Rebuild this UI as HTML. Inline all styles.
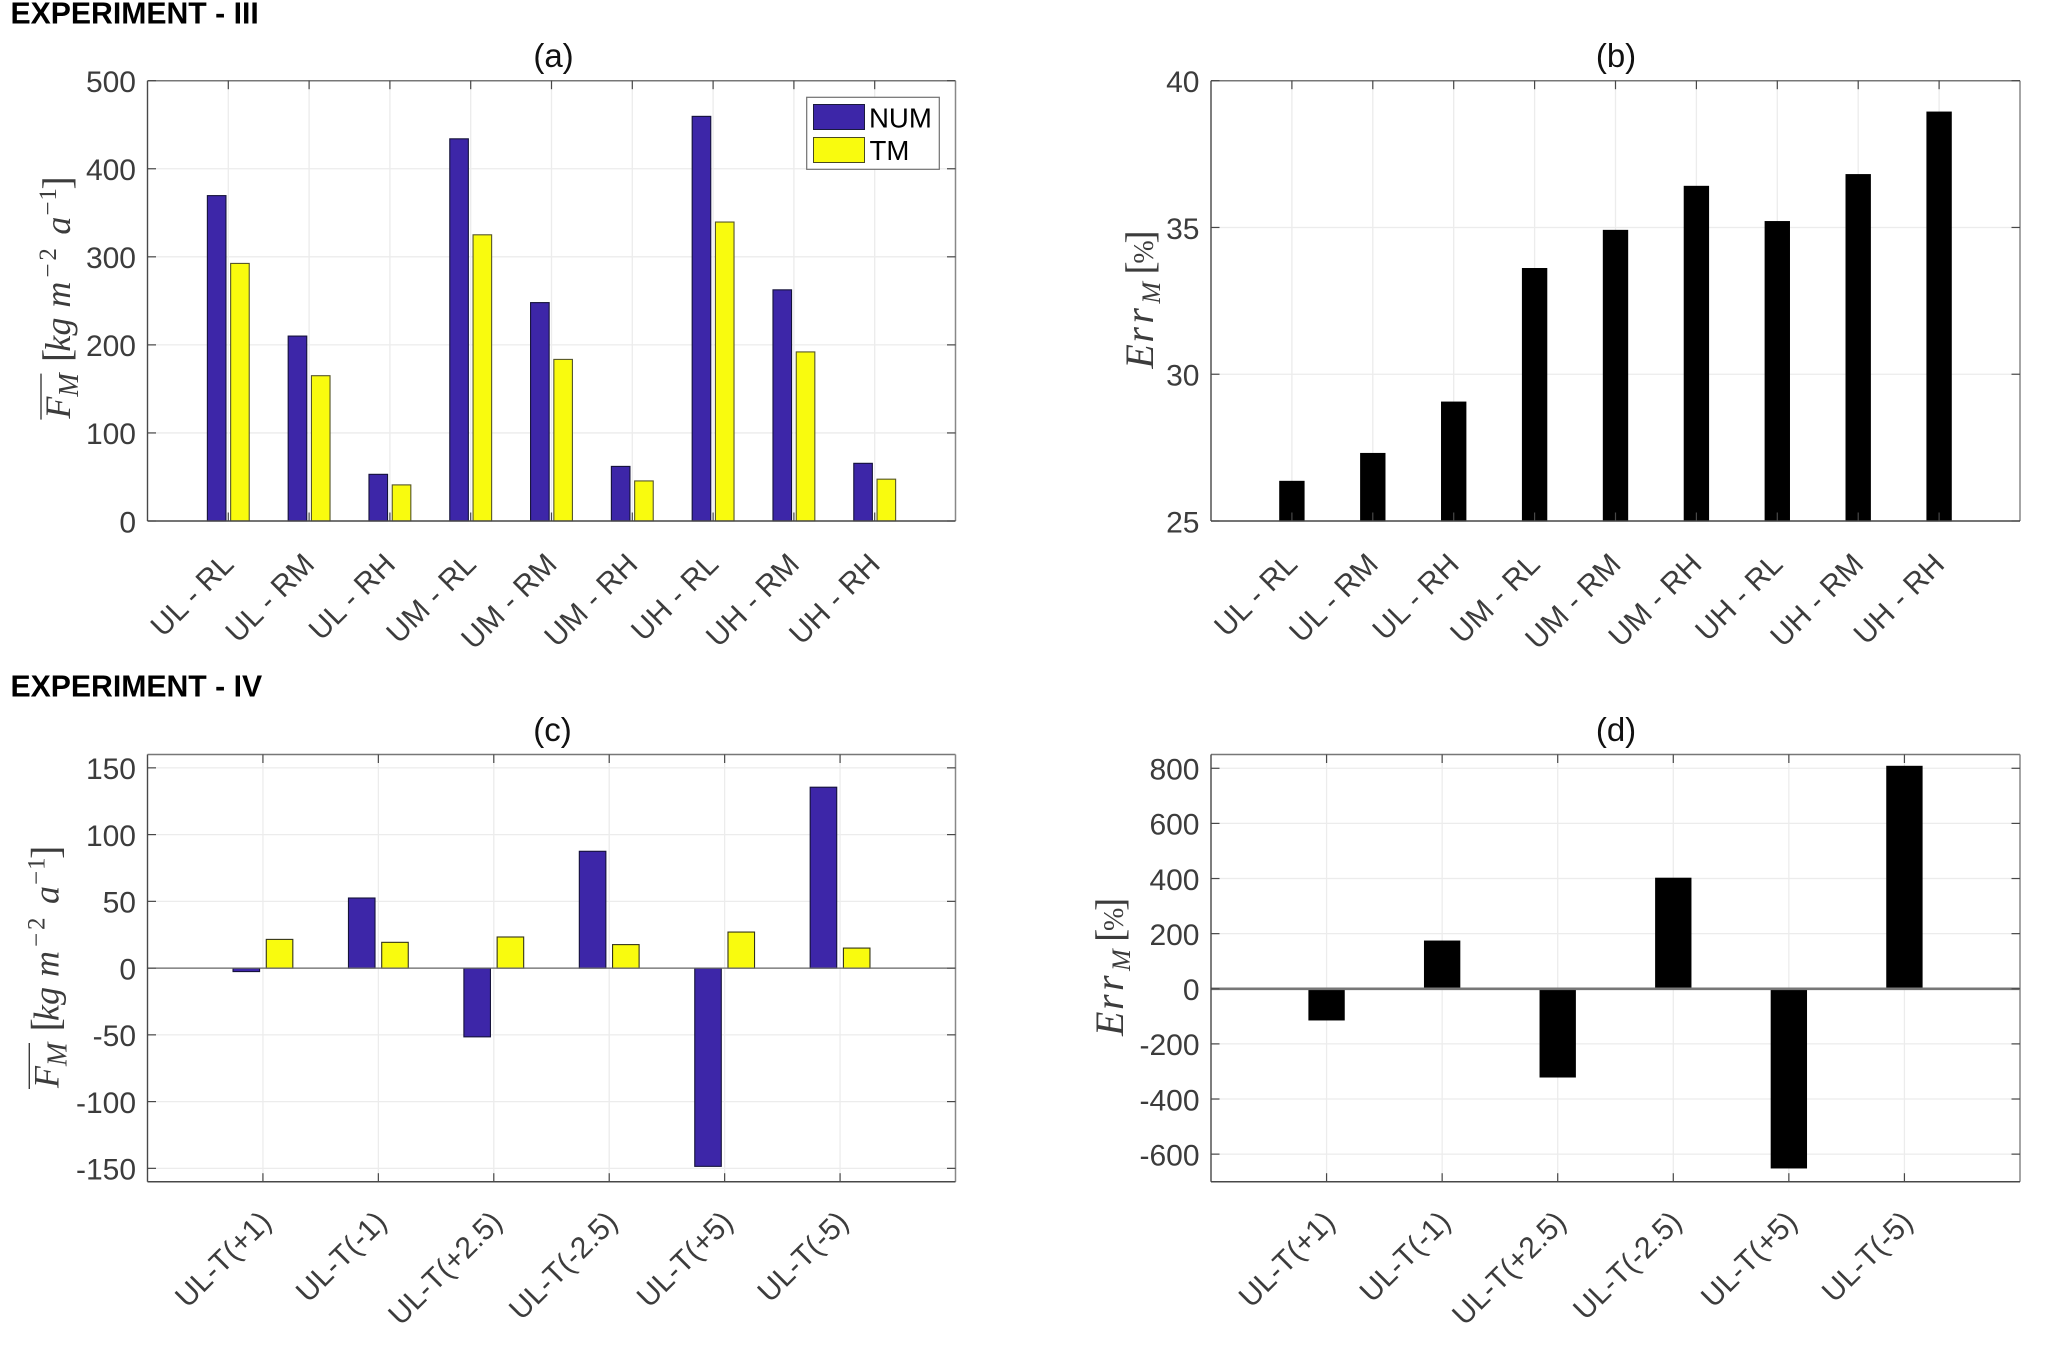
<!DOCTYPE html>
<html lang="en">
<head>
<meta charset="utf-8">
<title>Experiment III and IV bar charts</title>
<style>
  html, body { margin: 0; padding: 0; background: #fff; }
  svg { display: block; }
  text { font-family: "Liberation Sans", Arial, sans-serif; }
  .tick { font-size: 30px; fill: #3c3c3c; }
  .title { font-size: 33px; fill: #111; text-anchor: middle; }
  .head { font-size: 30.2px; font-weight: bold; fill: #000; }
  .legend-text { font-size: 27.6px; fill: #000; }
  .math { font-family: "Liberation Serif", "DejaVu Serif", serif; fill: #3c3c3c; }
  .it { font-style: italic; }
</style>
</head>
<body>
<svg id="fig" xmlns="http://www.w3.org/2000/svg" width="2067" height="1349" viewBox="0 0 2067 1349">
  <rect x="0" y="0" width="2067" height="1349" fill="#fff"/>
  <text class="head" x="10.5" y="23.3">EXPERIMENT - III</text>
  <text class="head" x="10.5" y="696.7">EXPERIMENT - IV</text>
  <text class="title" x="553.5" y="67">(a)</text>
  <text class="title" x="1616" y="67">(b)</text>
  <text class="title" x="552.5" y="741">(c)</text>
  <text class="title" x="1616" y="741">(d)</text>

  <g id="plots"></g>

  <g transform="translate(70,420.6) rotate(-90)">
    <line x1="1" y1="-29" x2="47" y2="-29" stroke="#3c3c3c" stroke-width="1.4"/>
    <text class="math" font-size="36">
      <tspan class="it" x="2">F</tspan><tspan class="it" x="24" y="8" font-size="28">M</tspan><tspan x="58.5" y="0" font-size="40">[</tspan><tspan class="it" x="69">k</tspan><tspan class="it" x="85">g</tspan><tspan class="it" x="113" textLength="27">m</tspan><tspan x="143" y="-14" font-size="25">−</tspan><tspan x="160" y="-14" font-size="25">2</tspan><tspan class="it" x="186" y="0">a</tspan><tspan x="205" y="-14" font-size="25">−</tspan><tspan x="220" y="-14" font-size="25">1</tspan><tspan x="231" y="0" font-size="40">]</tspan>
    </text>
  </g>
  <g transform="translate(58.3,1090) rotate(-90)">
    <line x1="1" y1="-29" x2="47" y2="-29" stroke="#3c3c3c" stroke-width="1.4"/>
    <text class="math" font-size="36">
      <tspan class="it" x="2">F</tspan><tspan class="it" x="24" y="8" font-size="28">M</tspan><tspan x="58.5" y="0" font-size="40">[</tspan><tspan class="it" x="69">k</tspan><tspan class="it" x="85">g</tspan><tspan class="it" x="113" textLength="27">m</tspan><tspan x="143" y="-14" font-size="25">−</tspan><tspan x="160" y="-14" font-size="25">2</tspan><tspan class="it" x="186" y="0">a</tspan><tspan x="205" y="-14" font-size="25">−</tspan><tspan x="220" y="-14" font-size="25">1</tspan><tspan x="231" y="0" font-size="40">]</tspan>
    </text>
  </g>
  <g transform="translate(1153,368.6) rotate(-90)">
    <text class="math" font-size="40">
      <tspan class="it" x="0">E</tspan><tspan class="it" x="26">r</tspan><tspan class="it" x="45">r</tspan><tspan class="it" x="65" y="7" font-size="26">M</tspan><tspan x="94" y="0">[</tspan><tspan x="105" font-size="28">%</tspan><tspan x="125">]</tspan>
    </text>
  </g>
  <g transform="translate(1123,1036) rotate(-90)">
    <text class="math" font-size="40">
      <tspan class="it" x="0">E</tspan><tspan class="it" x="26">r</tspan><tspan class="it" x="45">r</tspan><tspan class="it" x="65" y="7" font-size="26">M</tspan><tspan x="94" y="0">[</tspan><tspan x="105" font-size="28">%</tspan><tspan x="125">]</tspan>
    </text>
  </g>

  <g>
    <rect x="806.7" y="97.3" width="132.6" height="72" fill="#fff" stroke="#707070" stroke-width="1.2"/>
    <rect x="813.5" y="104.5" width="51" height="25" fill="#3d26a8" stroke="#1a1a3c" stroke-width="1"/>
    <rect x="813.5" y="137.5" width="51" height="25" fill="#f9fb0e" stroke="#4a4a20" stroke-width="1"/>
    <text class="legend-text" x="869" y="127.3">NUM</text>
    <text class="legend-text" x="869.5" y="160">TM</text>
  </g>
</svg>

<script>
// ---- data ----
const categoriesTop = ["UL - RL", "UL - RM", "UL - RH", "UM - RL", "UM - RM", "UM - RH", "UH - RL", "UH - RM", "UH - RH"];
const categoriesBottom = ["UL-T(+1)", "UL-T(-1)", "UL-T(+2.5)", "UL-T(-2.5)", "UL-T(+5)", "UL-T(-5)"];

const numA = [369.5, 210, 53, 434, 248, 62, 459.5, 262.5, 65.5];
const tmA = [292.5, 165, 41, 325, 183.5, 45.5, 339.5, 192, 47.5];
const errB = [26.35, 27.3, 29.05, 33.6, 34.9, 36.4, 35.2, 36.8, 38.93];
const numC = [-2.6, 52.5, -51.5, 87.5, -148.5, 135.5];
const tmC = [21.5, 19.3, 23.3, 17.6, 27, 15];
const errD = [-113, 173, -320, 401, -650, 807];

const yTicksA = [0, 100, 200, 300, 400, 500];
const yTicksB = [25, 30, 35, 40];
const yTicksC = [-150, -100, -50, 0, 50, 100, 150];
const yTicksD = [-600, -400, -200, 0, 200, 400, 600, 800];

const NS = "http://www.w3.org/2000/svg";
const plots = document.getElementById("plots");

function mk(tag, parent, attrs) {
  const el = document.createElementNS(NS, tag);
  for (const k in attrs) el.setAttribute(k, attrs[k]);
  parent.appendChild(el);
  return el;
}

function drawPanel(cfg) {
  const L = cfg.left, R = cfg.right, T = cfg.top, B = cfg.bottom;
  const n = cfg.categories.length;
  const xScale = v => L + (R - L) * v / (n + 1);
  const yScale = v => B - (B - T) * (v - cfg.yMin) / (cfg.yMax - cfg.yMin);
  const unit = (R - L) / (n + 1);

  const panel = mk("g", plots, {});
  
  

  mk("rect", panel, { x: L, y: T, width: R - L, height: B - T, fill: "#fff" });

  // grid
  const grid = mk("g", panel, { stroke: "#ececec", "stroke-width": 1.3 });
  
  
  cfg.yTicks.forEach(t => {
    mk("line", grid, { x1: L, x2: R, y1: yScale(t), y2: yScale(t) });
  });
  cfg.categories.forEach((c, i) => {
    mk("line", grid, { x1: xScale(i + 1), x2: xScale(i + 1), y1: T, y2: B });
  });

  // bars
  cfg.series.forEach(s => {
    const g = mk("g", panel, {});
    
    
    s.values.forEach((v, i) => {
      const y0 = yScale(Math.max(v, cfg.base));
      const y1 = yScale(Math.min(v, cfg.base));
      const bar = mk("rect", g, {
        x: xScale(i + 1) + s.offset * unit - s.width * unit / 2,
        y: y0,
        width: s.width * unit,
        height: y1 - y0,
        fill: s.fill,
        stroke: s.edge,
        "stroke-width": 1.1
      });
      
      
    });
  });

  // zero baseline
  if (cfg.base > cfg.yMin) {
    const zero = mk("line", panel, { x1: L, x2: R, y1: yScale(cfg.base), y2: yScale(cfg.base), stroke: cfg.zeroColor, "stroke-width": cfg.zeroWidth });
    
    
  }

  // axes frame
  const frame = mk("g", panel, { stroke: "#555", fill: "none" });
  
  
  mk("line", frame, { x1: L, x2: R, y1: T, y2: T, stroke: "#777", "stroke-width": 1.5 });
  mk("line", frame, { x1: R, x2: R, y1: T, y2: B, stroke: "#888", "stroke-width": 1.5 });
  mk("line", frame, { x1: L, x2: L, y1: T, y2: B, stroke: "#484848", "stroke-width": 1.4 });
  mk("line", frame, { x1: L, x2: R, y1: B, y2: B, stroke: "#484848", "stroke-width": 1.5 });

  // ticks
  const ticks = mk("g", panel, { stroke: "#484848", "stroke-width": 1.2 });
  
  
  cfg.yTicks.forEach(t => {
    const y = yScale(t);
    mk("line", ticks, { x1: L, x2: L + 8.5, y1: y, y2: y });
    mk("line", ticks, { x1: R - 8.5, x2: R, y1: y, y2: y });
  });
  cfg.categories.forEach((c, i) => {
    const x = xScale(i + 1);
    mk("line", ticks, { x1: x, x2: x, y1: T, y2: T + 8.5 });
    mk("line", ticks, { x1: x, x2: x, y1: B - 8.5, y2: B });
  });

  // y tick labels
  cfg.yTicks.forEach(t => {
    const lab = mk("text", panel, { class: "tick", x: L - 11.5, y: yScale(t) + 11.3, "text-anchor": "end" });
    
    
    lab.textContent = String(t);
  });

  // x tick labels
  cfg.categories.forEach((c, i) => {
    const x = xScale(i + 1) + cfg.labelDx;
    const y = B + cfg.labelDy;
    const lab = mk("text", panel, { class: "tick", x: x, y: y, "text-anchor": "end", transform: "rotate(-45 " + x + " " + y + ")" });
    
    
    lab.textContent = c;
  });
}

const BLUE = "#3d26a8", YELLOW = "#f9fb0e";

drawPanel({
  name: "panel-a-chart", left: 147.5, right: 955.5, top: 80.7, bottom: 521,
  yMin: 0, yMax: 500, base: 0, zeroWidth: 1.5, zeroColor: "#666", labelDx: 7, labelDy: 45, yTicks: yTicksA, categories: categoriesTop,
  series: [
    { name: "num", values: numA, offset: -0.144, width: 0.23, fill: BLUE, edge: "#15123a" },
    { name: "tm", values: tmA, offset: 0.144, width: 0.23, fill: YELLOW, edge: "#55552a" }
  ]
});
drawPanel({
  name: "panel-b-chart", left: 1211, right: 2020, top: 80.7, bottom: 521,
  yMin: 25, yMax: 40, base: 25, zeroWidth: 1.5, zeroColor: "#666", labelDx: 7, labelDy: 45, yTicks: yTicksB, categories: categoriesTop,
  series: [
    { name: "err", values: errB, offset: 0, width: 0.3, fill: "#000", edge: "#000" }
  ]
});
drawPanel({
  name: "panel-c-chart", left: 147.5, right: 955.5, top: 754.5, bottom: 1181.7,
  yMin: -160, yMax: 160, base: 0, zeroWidth: 1.2, zeroColor: "#666", labelDx: 10, labelDy: 42, yTicks: yTicksC, categories: categoriesBottom,
  series: [
    { name: "num", values: numC, offset: -0.144, width: 0.23, fill: BLUE, edge: "#15123a" },
    { name: "tm", values: tmC, offset: 0.144, width: 0.23, fill: YELLOW, edge: "#33331a" }
  ]
});
drawPanel({
  name: "panel-d-chart", left: 1211, right: 2020, top: 754.5, bottom: 1181.7,
  yMin: -700, yMax: 850, base: 0, zeroWidth: 2.6, zeroColor: "#777", labelDx: 10, labelDy: 42, yTicks: yTicksD, categories: categoriesBottom,
  series: [
    { name: "err", values: errD, offset: 0, width: 0.305, fill: "#000", edge: "#000" }
  ]
});
</script>
</body>
</html>
